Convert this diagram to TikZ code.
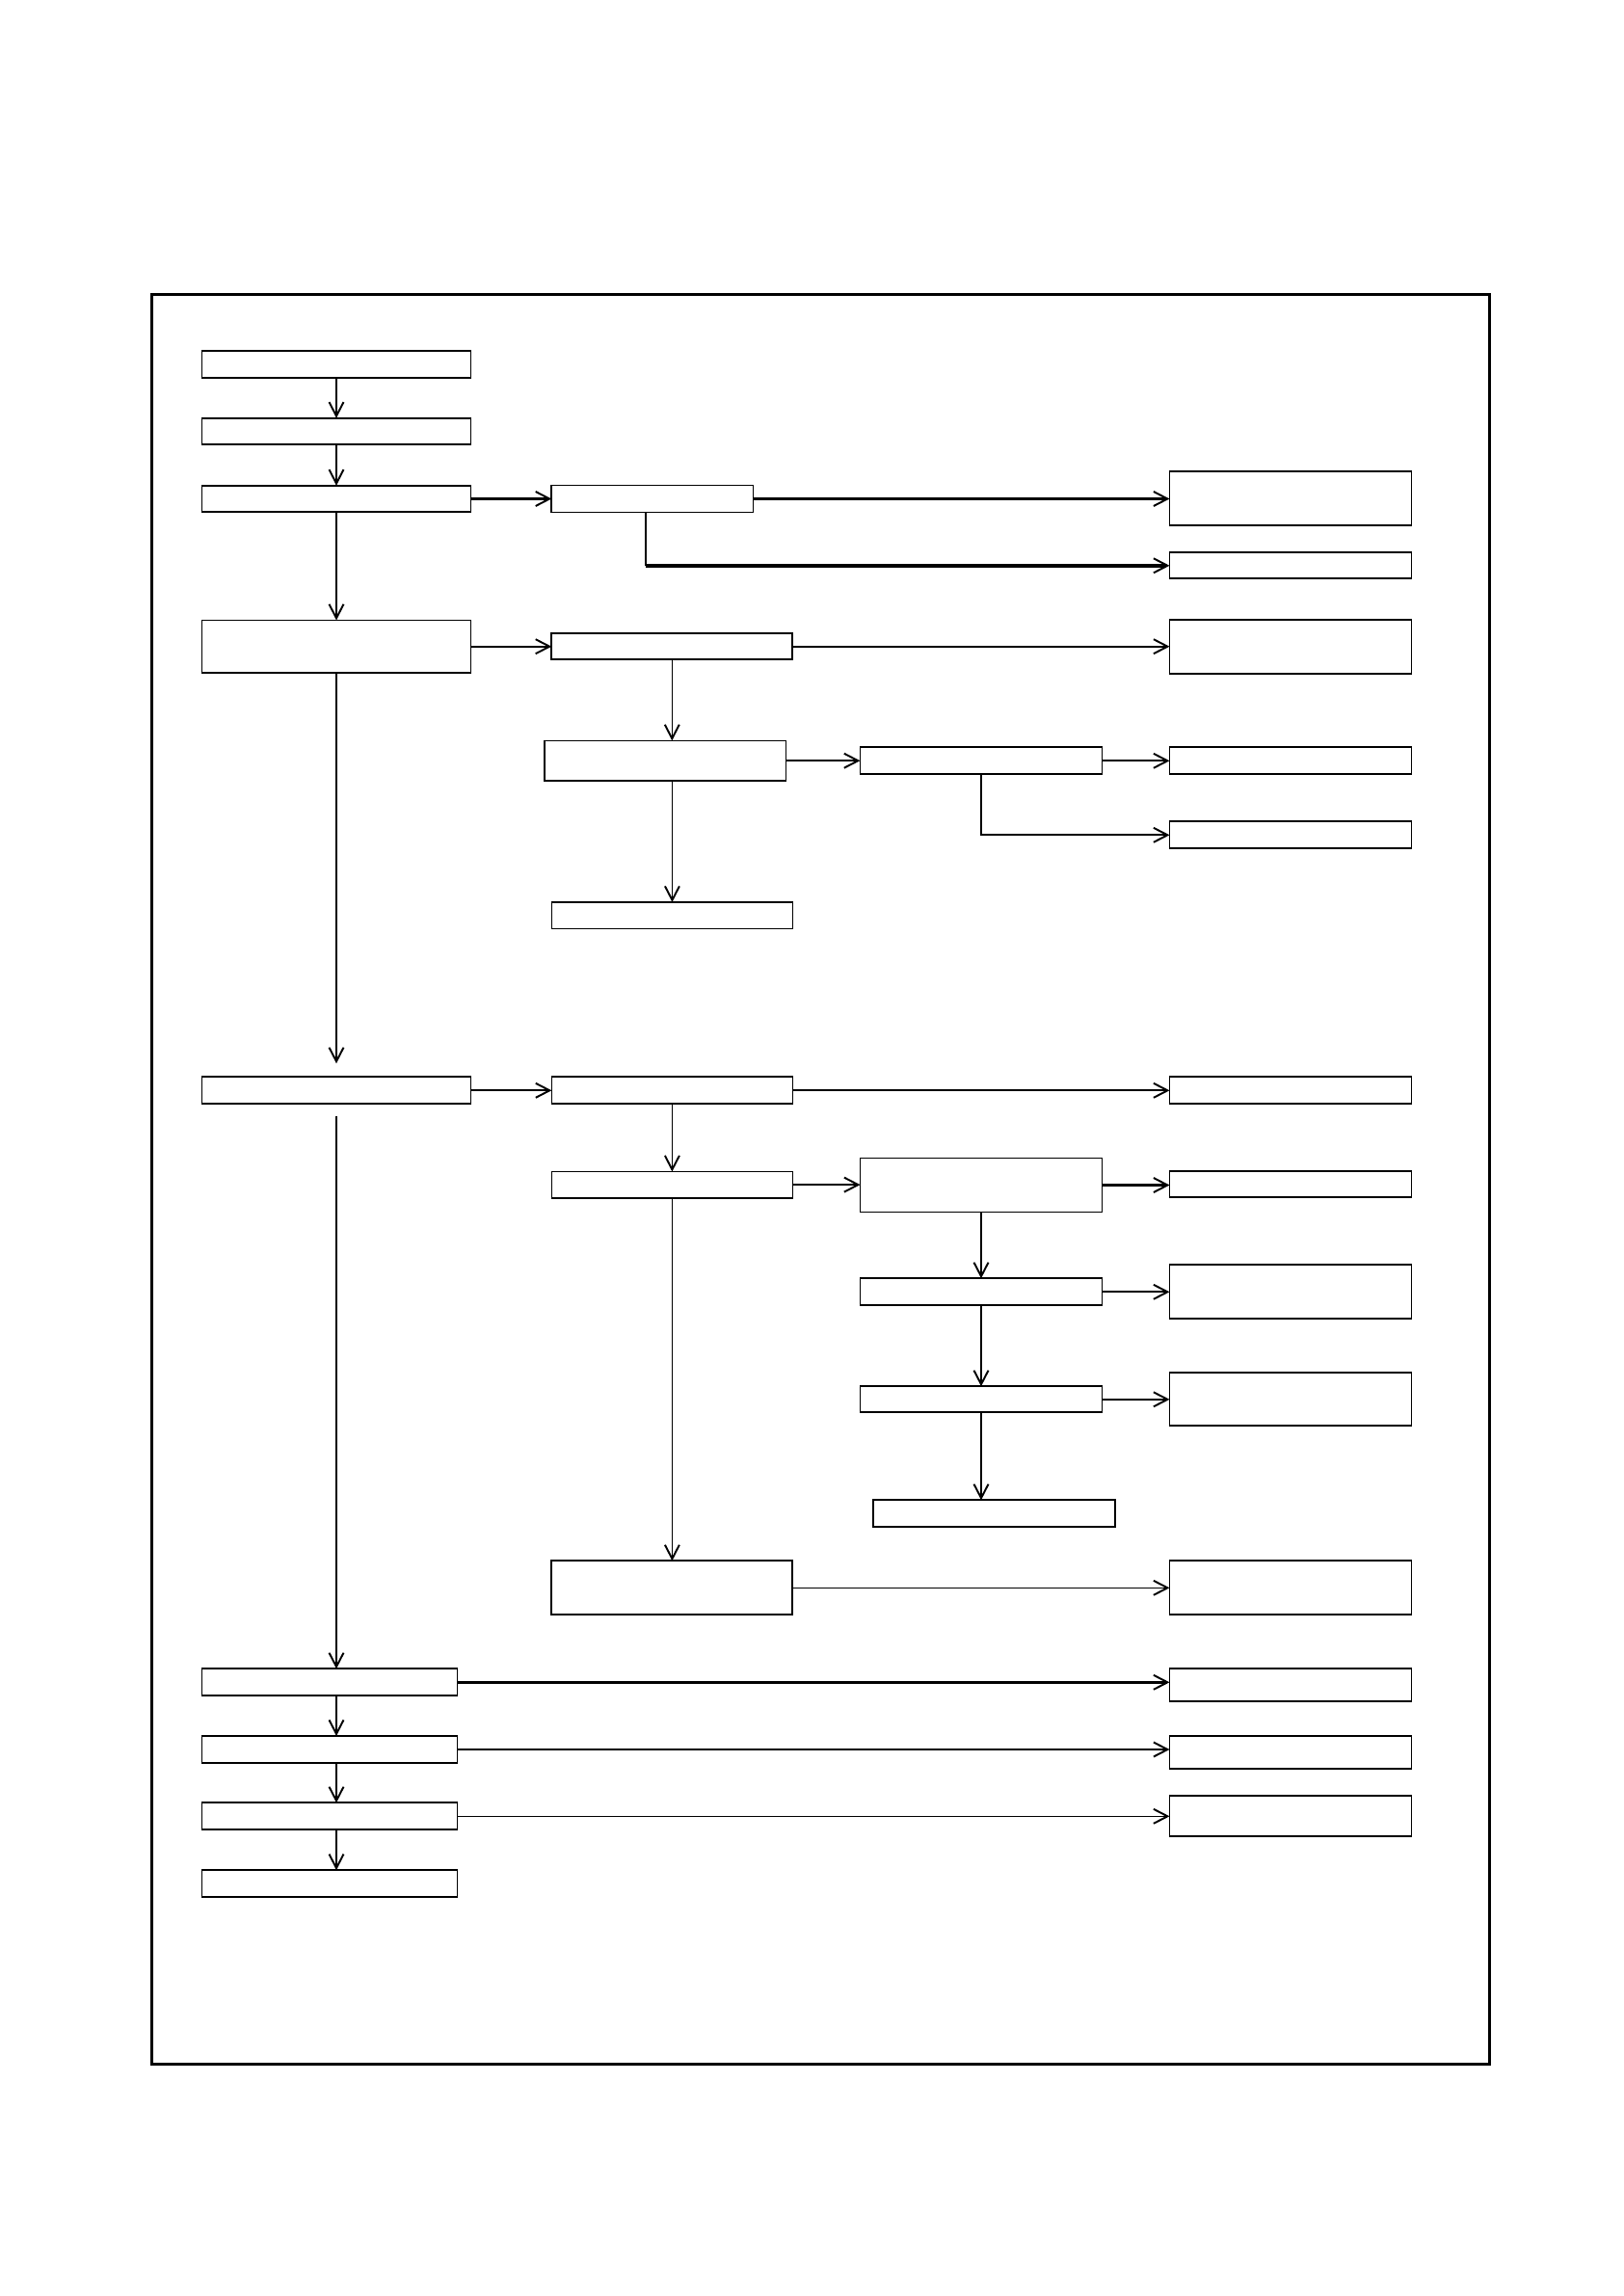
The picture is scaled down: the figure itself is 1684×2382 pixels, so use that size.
\documentclass[tikz,border=0pt]{standalone}
\usetikzlibrary{arrows.meta}
\tikzset{
  bx/.style={draw, rectangle, line width=0.48pt, inner sep=0pt, outer sep=0pt},
  arr/.style={-{Straight Barb[length=1.45mm,width=1.5mm,line width=0.55pt]}},
  lwA/.style={line width=0.3pt},
  lwB/.style={line width=0.45pt},
  lwC/.style={line width=0.6pt},
  lwD/.style={line width=1.0pt},
  framebox/.style={draw, line width=0.85pt}
}
\newcommand\mybox[5]{\node[bx, minimum width=#4mm, minimum height=#5mm] (#1) at (#2,#3) {};}
\begin{document}
\begin{tikzpicture}[x=0.1mm,y=-0.1mm]
\useasboundingbox (0,0) rectangle (1684,2382);
\draw[framebox] (157.9,305.5) rectangle (1545.6,2141);
% left column
\mybox{L1}{349}{378}{27.9}{2.75}
\mybox{L2}{349}{447.5}{27.9}{2.75}
\mybox{L3}{349}{517.5}{27.9}{2.75}
\mybox{L4}{349}{670.7}{27.9}{5.45}
\mybox{L5}{349}{1131.3}{27.9}{2.8}
\mybox{L6}{342}{1745.3}{26.5}{2.8}
\mybox{L7}{342}{1815}{26.5}{2.8}
\mybox{L8}{342}{1884.3}{26.5}{2.8}
\mybox{L9}{342}{1954.2}{26.5}{2.8}
% middle column
\mybox{M1}{676.9}{517.5}{20.92}{2.8}
\mybox{M2}{697.3}{670.7}{25.0}{2.7}
\mybox{M3}{690.25}{789.2}{25.05}{4.17}
\mybox{M4}{697.45}{949.7}{25.0}{2.75}
\mybox{M5}{697.4}{1131.3}{25.0}{2.8}
\mybox{M6}{697.4}{1229.1}{25.0}{2.72}
\mybox{M7}{697.3}{1647.3}{25.0}{5.6}
% inner column
\mybox{N1}{1017.9}{789.3}{25.1}{2.8}
\mybox{N2}{1018}{1229.5}{25.1}{5.6}
\mybox{N3}{1018}{1340.3}{25.1}{2.8}
\mybox{N4}{1018}{1451.8}{25.1}{2.7}
\mybox{N5}{1031.8}{1570.3}{25.1}{2.8}
% right column
\mybox{R1}{1339}{517.3}{25.1}{5.6}
\mybox{R2}{1339}{586.8}{25.1}{2.7}
\mybox{R3}{1339}{671}{25.1}{5.54}
\mybox{R4}{1339}{789.3}{25.1}{2.8}
\mybox{R5}{1339}{866.3}{25.1}{2.8}
\mybox{R6}{1339}{1131.3}{25.1}{2.8}
\mybox{R7}{1339}{1228.8}{25.1}{2.7}
\mybox{R8}{1339}{1340.3}{25.1}{5.6}
\mybox{R9}{1339}{1451.8}{25.1}{5.5}
\mybox{R10}{1339}{1647.3}{25.1}{5.6}
\mybox{R11}{1339}{1748.3}{25.1}{3.4}
\mybox{R12}{1339}{1818.3}{25.1}{3.4}
\mybox{R13}{1339}{1884.3}{25.1}{4.2}
% helper coordinates
\coordinate (spine) at (349,0);
\coordinate (bxM1) at (670,0);
\coordinate (g1) at (349,1103.3);
\coordinate (g2) at (349,1158.3);
% left spine
\draw[arr,lwA] (L1) -- (L2);
\draw[arr,lwA] (L2) -- (L3);
\draw[arr,lwA] (L3) -- (L4);
\draw[arr,lwA] (L4.south) -- (g1);
\draw[arr,lwA] (g2) -- (g2 |- L6.north);
\draw[arr,lwA] (L6.south -| spine) -- (L7.north -| spine);
\draw[arr,lwA] (L7.south -| spine) -- (L8.north -| spine);
\draw[arr,lwA] (L8.south -| spine) -- (L9.north -| spine);
% upper branches
\draw[arr,lwC] (L3.east) -- (M1.west);
\draw[arr,lwC] (M1.east) -- (M1.east -| R1.west);
\draw[lwA] (M1.south -| bxM1) -- (R2.west -| bxM1);
\draw[arr,lwD] (R2.west -| bxM1) -- (R2.west);
\draw[arr,lwC] (L4.east) -- (L4.east -| M2.west);
\draw[arr,lwC] (M2.east) -- (M2.east -| R3.west);
\draw[arr,lwB] (M2.south) -- (M2.south |- M3.north);
\draw[arr,lwC] (M3.east) -- (M3.east -| N1.west);
\draw[arr,lwC] (N1.east) -- (N1.east -| R4.west);
\draw[arr,lwC] (N1.south) |- (R5.west);
\draw[arr,lwA] (M4.north |- M3.south) -- (M4.north);
% middle section
\draw[arr,lwC] (L5.east) -- (M5.west);
\draw[arr,lwC] (M5.east) -- (R6.west);
\draw[arr,lwB] (M5.south) -- (M5.south |- M6.north);
\draw[arr,lwC] (M6.east) -- (M6.east -| N2.west);
\draw[arr,lwC] (N2.east) -- (N2.east -| R7.west);
\draw[arr,lwC] (N2.south) -- (N2.south |- N3.north);
\draw[arr,lwC] (N3.east) -- (R8.west);
\draw[arr,lwC] (N3.south) -- (N3.south |- N4.north);
\draw[arr,lwC] (N4.east) -- (N4.east -| R9.west);
\draw[arr,lwC] (N4.south) -- (N4.south |- N5.north);
\draw[arr,lwB] (M6.south) -- (M6.south |- M7.north);
\draw[arr,lwB] (M7.east) -- (R10.west);
% lower section
\draw[arr,lwD] (L6.east) -- (L6.east -| R11.west);
\draw[arr,lwB] (L7.east) -- (L7.east -| R12.west);
\draw[arr,lwB] (L8.east) -- (L8.east -| R13.west);
\end{tikzpicture}
\end{document}
